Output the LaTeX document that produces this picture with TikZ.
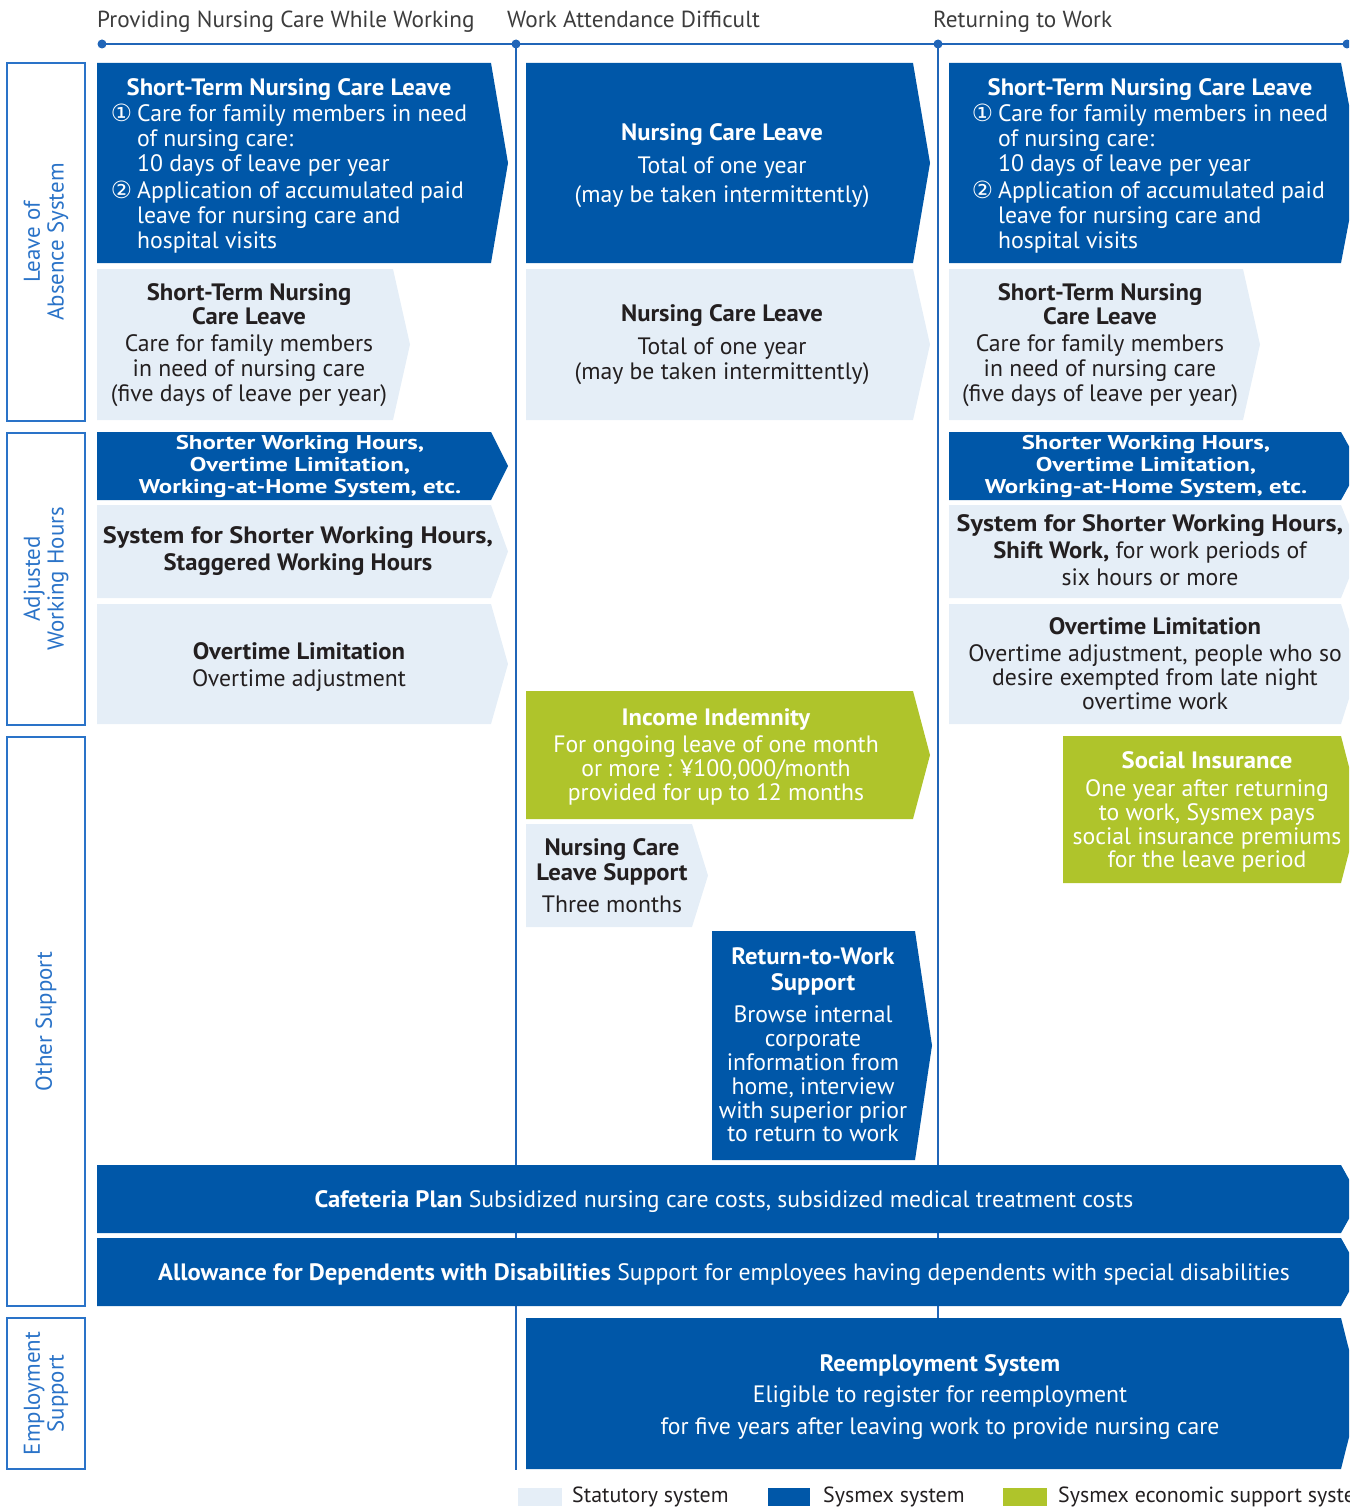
\documentclass[tikz,border=0pt]{standalone}
\usepackage{fontspec}
\usepackage{graphicx}
\setmainfont{PT Sans}[BoldFeatures={FakeStretch=1.04}]
\newfontfamily\symfont{DejaVu Sans}
\definecolor{dblue}{HTML}{0057A8}
\definecolor{lblue}{HTML}{E5EEF7}
\definecolor{lgreen}{HTML}{AFC42B}
\definecolor{lineblue}{HTML}{2065B8}
\definecolor{catblue}{HTML}{2A73C8}
\definecolor{txtdark}{HTML}{231F20}
\definecolor{hdrgray}{HTML}{3C3C3C}
\newcommand\abox[6]{\fill[#1] (#2,#3) -- (#4,#3) -- (#6,{(#3+#5)/2}) -- (#4,#5) -- (#2,#5) -- cycle;}
\newcommand\wideb[2]{\scalebox{#1}[1]{\textbf{#2}}}
\tikzset{
  txt/.style={align=center, inner sep=0pt, font=\fontsize{23.8}{25}\selectfont},
  wtxt/.style={txt, text=white},
  dtxt/.style={txt, text=txtdark},
  hdr/.style={anchor=base west, inner sep=0pt, text=hdrgray, font=\fontsize{23.3}{25}\selectfont},
  legtxt/.style={anchor=west, inner sep=0pt, text=txtdark, font=\fontsize{22}{25}\selectfont},
  catbox/.style={draw=catblue, line width=2bp, fill=white, rotate=90, align=center, text=catblue, inner sep=0pt, font=\fontsize{23}{24}\selectfont, minimum height=78bp},
  tl/.style={draw=lineblue, line width=2bp},
  tdot/.style={fill=lineblue}
}
\begin{document}
\begin{tikzpicture}[x=1bp,y=-1bp]
\useasboundingbox (0,0) rectangle (1362,1510);
\begin{scope}
\clip (0,0) rectangle (1349,1510);
% timeline
\coordinate (t0) at (102,44);
\coordinate (t1) at (516,44);
\coordinate (t2) at (938,44);
\coordinate (t3) at (1347,44);
\coordinate (v1) at (516,1470);
\coordinate (v2) at (938,1318);
\draw[tl] (t0) -- (t3);
\draw[tl] (t1) -- (v1);
\draw[tl] (t2) -- (v2);
\foreach \p in {t0,t1,t2,t3} \fill[tdot] (\p) circle (4.5);
\node[hdr] (h1) at (97,28) {Providing Nursing Care While Working};
\node[hdr] (h2) at (507,28) {Work Attendance Difficult};
\node[hdr] (h3) at (933,28) {Returning to Work};

% category boxes
\node[catbox, minimum width=358bp] (c1) at (46,242) {Leave of\\Absence System};
\node[catbox, minimum width=292bp] (c2) at (46,579) {Adjusted\\Working Hours};
\node[catbox, minimum width=569bp] (c3) at (46,1021.5) {Other Support};
\node[catbox, minimum width=151bp] (c4) at (46,1393.5) {Employment\\Support};

% column 1
\abox{dblue}{97}{63}{491}{263}{508}
\abox{lblue}{97}{269}{393}{420}{410}
\abox{dblue}{97}{432}{491}{500}{508}
\abox{lblue}{97}{505}{491}{598}{508}
\abox{lblue}{97}{604}{491}{724}{508}
% column 2
\abox{dblue}{526}{63}{913}{263}{930}
\abox{lblue}{526}{269}{913}{420}{930}
\abox{lgreen}{526}{691}{913}{819}{930}
\abox{lblue}{526}{824}{692}{927}{708}
\abox{dblue}{712}{931}{915}{1160}{932}
% column 3
\abox{dblue}{949}{63}{1341}{263}{1360}
\abox{lblue}{949}{269}{1243}{420}{1260}
\abox{dblue}{949}{432}{1341}{500}{1360}
\abox{lblue}{949}{505}{1341}{598}{1360}
\abox{lblue}{949}{604}{1341}{724}{1360}
\abox{lgreen}{1063}{736}{1341}{883}{1360}
% full-width bars
\abox{dblue}{97}{1165}{1341}{1233}{1360}
\abox{dblue}{97}{1238}{1341}{1306}{1360}
\abox{dblue}{526}{1318}{1341}{1469}{1360}

% texts column 1
\node[wtxt] (n11) at (289,167) {\textbf{Short-Term Nursing Care Leave}\\[3pt]
\begin{tabular}{@{}l@{\hspace{5bp}}l@{}}
{\symfont ①} & Care for family members in need\\
 & of nursing care:\\
 & 10 days of leave per year\\[2pt]
{\symfont ②} & Application of accumulated paid\\
 & leave for nursing care and\\
 & hospital visits
\end{tabular}};
\node[dtxt] (n12) at (249,345) {\textbf{Short-Term Nursing}\\\textbf{Care Leave}\\[2pt]Care for family members\\in need of nursing care\\(five days of leave per year)};
\node[wtxt] (n13) at (300,467) {\scalebox{1.2}[1]{\fontsize{20}{22}\selectfont\bfseries\begin{tabular}{@{}c@{}}Shorter Working Hours,\\Overtime Limitation,\\Working-at-Home System, etc.\end{tabular}}};
\node[dtxt] (n14) at (298,551) {\wideb{1.07}{System for Shorter Working Hours,}\\[2pt]\textbf{Staggered Working Hours}};
\node[dtxt] (n15) at (299,667) {\textbf{Overtime Limitation}\\[3pt]Overtime adjustment};

% texts column 2
\node[wtxt] (n21) at (722,166) {\textbf{Nursing Care Leave}\\[8pt]Total of one year\\[4pt](may be taken intermittently)};
\node[dtxt] (n22) at (722,345) {\textbf{Nursing Care Leave}\\[8pt]Total of one year\\(may be taken intermittently)};
\node[wtxt, font=\fontsize{23.8}{24}\selectfont] (n23) at (716,757) {\textbf{Income Indemnity}\\[3pt]For ongoing leave of one month\\or more : ¥100,000/month\\provided for up to 12 months};
\node[dtxt] (n24) at (612,876) {\textbf{Nursing Care}\\\textbf{Leave Support}\\[7pt]Three months};
\node[wtxt, font=\fontsize{23.8}{24}\selectfont] (n25) at (813,1045) {\textbf{Return-to-Work}\\[2pt]\textbf{Support}\\[8pt]Browse internal\\corporate\\information from\\home, interview\\with superior prior\\to return to work};

% texts column 3
\node[wtxt] (n31) at (1150,167) {\textbf{Short-Term Nursing Care Leave}\\[3pt]
\begin{tabular}{@{}l@{\hspace{5bp}}l@{}}
{\symfont ①} & Care for family members in need\\
 & of nursing care:\\
 & 10 days of leave per year\\[2pt]
{\symfont ②} & Application of accumulated paid\\
 & leave for nursing care and\\
 & hospital visits
\end{tabular}};
\node[dtxt] (n32) at (1100,345) {\textbf{Short-Term Nursing}\\\textbf{Care Leave}\\[2pt]Care for family members\\in need of nursing care\\(five days of leave per year)};
\node[wtxt] (n33) at (1146,467) {\scalebox{1.2}[1]{\fontsize{20}{22}\selectfont\bfseries\begin{tabular}{@{}c@{}}Shorter Working Hours,\\Overtime Limitation,\\Working-at-Home System, etc.\end{tabular}}};
\node[dtxt, font=\fontsize{23.8}{27}\selectfont] (n34) at (1150,550) {\wideb{1.06}{System for Shorter Working Hours,}\\\textbf{Shift Work,} for work periods of\\six hours or more};
\node[dtxt, font=\fontsize{23.8}{24}\selectfont] (n35) at (1155,664) {\textbf{Overtime Limitation}\\[3pt]Overtime adjustment, people who so\\desire exempted from late night\\overtime work};
\node[wtxt, font=\fontsize{23.8}{24}\selectfont] (n36) at (1207,812) {\textbf{Social Insurance}\\[4pt]One year after returning\\to work, Sysmex pays\\social insurance premiums\\for the leave period};

% bars
\node[wtxt] (n5) at (724,1202) {\textbf{Cafeteria Plan}\ Subsidized nursing care costs, subsidized medical treatment costs};
\node[wtxt] (n6) at (724,1275) {\textbf{Allowance for Dependents with Disabilities}\ Support for employees having dependents with special disabilities};
\node[wtxt] (n7) at (940,1397) {\textbf{Reemployment System}\\[7pt]Eligible to register for reemployment\\[7pt]for five years after leaving work to provide nursing care};

% legend
\fill[lblue] (518,1488) rectangle (562,1506);
\node[legtxt] (l1) at (572,1497) {Statutory system};
\fill[dblue] (768,1488) rectangle (810,1506);
\node[legtxt] (l2) at (823,1497) {Sysmex system};
\fill[lgreen] (1003,1488) rectangle (1047,1506);
\node[legtxt] (l3) at (1058,1497) {Sysmex economic support system};
\end{scope}
\end{tikzpicture}
\end{document}
